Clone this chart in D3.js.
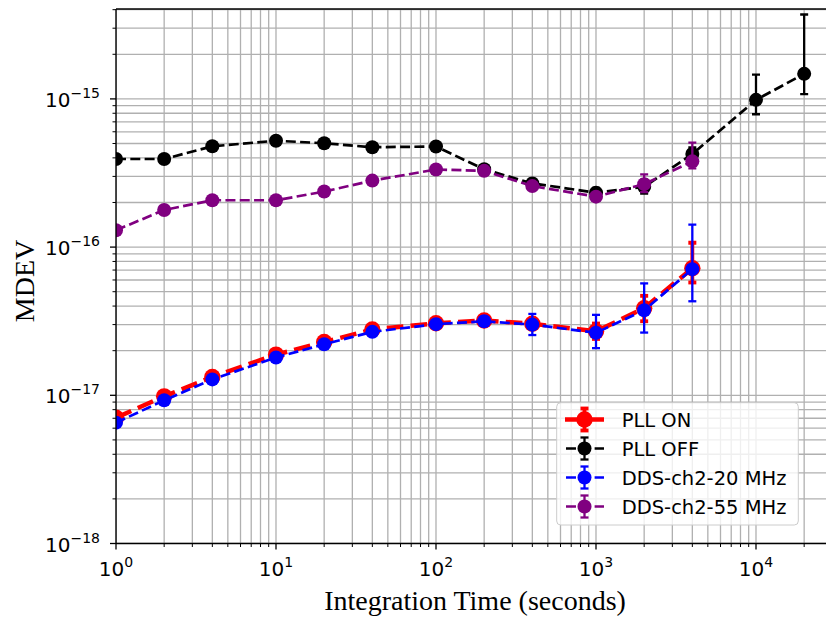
<!DOCTYPE html>
<html>
<head>
<meta charset="utf-8">
<script src="https://cdn.jsdelivr.net/npm/d3@7/dist/d3.min.js"></script>
<style>
  html, body { margin: 0; padding: 0; background: #fff; }
  svg { display: block; }
</style>
</head>
<body>
<div id="chart"></div>
<script>
// ---- data ----
const tau = [1, 2, 4, 10, 20, 40, 100, 200, 400, 1000, 2000, 4000];
const tauOff = [1, 2, 4, 10, 20, 40, 100, 200, 400, 1000, 2000, 4000, 10000, 20000];

const pllOn      = [7.06e-18, 9.84e-18, 1.33e-17, 1.88e-17, 2.29e-17, 2.78e-17, 3.06e-17, 3.20e-17, 3.04e-17, 2.70e-17, 3.87e-17, 7.2e-17];
const pllOnLo    = [6.9e-18, 9.6e-18, 1.30e-17, 1.85e-17, 2.25e-17, 2.72e-17, 2.98e-17, 3.05e-17, 2.85e-17, 2.40e-17, 3.16e-17, 5.77e-17];
const pllOnHi    = [7.2e-18, 1.00e-17, 1.36e-17, 1.91e-17, 2.33e-17, 2.84e-17, 3.14e-17, 3.36e-17, 3.25e-17, 3.05e-17, 4.69e-17, 1.07e-16];

const pllOff     = [3.93e-16, 3.93e-16, 4.79e-16, 5.22e-16, 5.02e-16, 4.72e-16, 4.77e-16, 3.35e-16, 2.69e-16, 2.33e-16, 2.55e-16, 4.25e-16, 9.85e-16, 1.476e-15];
const pllOffLo   = [3.88e-16, 3.87e-16, 4.70e-16, 5.10e-16, 4.88e-16, 4.55e-16, 4.55e-16, 3.15e-16, 2.50e-16, 2.15e-16, 2.30e-16, 3.80e-16, 7.88e-16, 1.076e-15];
const pllOffHi   = [3.98e-16, 3.99e-16, 4.88e-16, 5.34e-16, 5.16e-16, 4.89e-16, 4.99e-16, 3.55e-16, 2.88e-16, 2.51e-16, 2.85e-16, 4.70e-16, 1.46e-15, 3.71e-15];

const dds20      = [6.54e-18, 9.25e-18, 1.28e-17, 1.80e-17, 2.21e-17, 2.68e-17, 3.02e-17, 3.16e-17, 3.00e-17, 2.64e-17, 3.75e-17, 7.1e-17];
const dds20Lo    = [6.4e-18, 9.05e-18, 1.25e-17, 1.76e-17, 2.15e-17, 2.60e-17, 2.90e-17, 2.95e-17, 2.55e-17, 2.08e-17, 2.65e-17, 4.31e-17];
const dds20Hi    = [6.7e-18, 9.45e-18, 1.31e-17, 1.84e-17, 2.27e-17, 2.76e-17, 3.14e-17, 3.40e-17, 3.54e-17, 3.49e-17, 5.69e-17, 1.42e-16];

const dds55      = [1.30e-16, 1.78e-16, 2.07e-16, 2.07e-16, 2.37e-16, 2.81e-16, 3.34e-16, 3.27e-16, 2.58e-16, 2.19e-16, 2.66e-16, 3.79e-16];
const dds55Lo    = [1.28e-16, 1.75e-16, 2.03e-16, 2.03e-16, 2.32e-16, 2.74e-16, 3.25e-16, 3.15e-16, 2.45e-16, 2.05e-16, 2.35e-16, 3.40e-16];
const dds55Hi    = [1.32e-16, 1.81e-16, 2.11e-16, 2.11e-16, 2.42e-16, 2.88e-16, 3.43e-16, 3.39e-16, 2.71e-16, 2.33e-16, 3.10e-16, 5.07e-16];

const seriesNames  = ["PLL ON", "PLL OFF", "DDS-ch2-20 MHz", "DDS-ch2-55 MHz"];
const seriesColors = ["#ff0000", "#000000", "#0000ff", "#800080"];

const xTickExp = [0, 1, 2, 3, 4];
const yTickExp = [-18, -17, -16, -15];

const xLabel = "Integration Time (seconds)";
const yLabel = "MDEV";

// ---- layout ----
const W = 826, H = 617;
const L = 116, R = 834, T = 9, B = 543.5;
const pxPerDecX = 160, pxPerDecY = 148.2;

const svg = d3.select("#chart").append("svg")
  .attr("width", W).attr("height", H)
  .attr("viewBox", `0 0 ${W} ${H}`);

const x = d3.scaleLog()
  .domain([1, Math.pow(10, (R - L) / pxPerDecX)])
  .range([L, R]);
const y = d3.scaleLog()
  .domain([1e-18, Math.pow(10, -18 + (B - T) / pxPerDecY)])
  .range([B, T]);

svg.append("defs").append("clipPath").attr("id", "clip")
  .append("rect").attr("x", L).attr("y", T).attr("width", R - L).attr("height", B - T);

// grid (major + minor)
const xAll = [], yAll = [];
for (let e = 0; e <= 5; e++) for (let m = 1; m <= 9; m++) {
  const v = m * Math.pow(10, e);
  if (v >= x.domain()[0] && v <= x.domain()[1]) xAll.push(v);
}
for (let e = -18; e <= -14; e++) for (let m = 1; m <= 9; m++) {
  const v = m * Math.pow(10, e);
  if (v >= y.domain()[0] * 0.999 && v <= y.domain()[1]) yAll.push(v);
}
const grid = svg.append("g").attr("clip-path", "url(#clip)");
grid.selectAll("line.gx").data(xAll).join("line")
  .attr("x1", d => x(d)).attr("x2", d => x(d)).attr("y1", T).attr("y2", B)
  .attr("stroke", "#b0b0b0").attr("stroke-width", 1.3);
grid.selectAll("line.gy").data(yAll).join("line")
  .attr("y1", d => y(d)).attr("y2", d => y(d)).attr("x1", L).attr("x2", R)
  .attr("stroke", "#b0b0b0").attr("stroke-width", 1.3);

// series
const series = [
  { xs: tau,    v: pllOn,  lo: pllOnLo,  hi: pllOnHi,  lw: 4.5, r: 8.2, cap: 4 },
  { xs: tauOff, v: pllOff, lo: pllOffLo, hi: pllOffHi, lw: 2.7, r: 7,   cap: 4 },
  { xs: tau,    v: dds20,  lo: dds20Lo,  hi: dds20Hi,  lw: 2.7, r: 7,   cap: 4 },
  { xs: tau,    v: dds55,  lo: dds55Lo,  hi: dds55Hi,  lw: 2.7, r: 7,   cap: 4 },
];

const plot = svg.append("g").attr("clip-path", "url(#clip)");
series.forEach((s, i) => {
  const col = seriesColors[i];
  const pts = s.xs.map((t, k) => ({ t, v: s.v[k], lo: s.lo[k], hi: s.hi[k] }));
  const g = plot.append("g");
  g.append("path")
    .attr("d", d3.line().x(d => x(d.t)).y(d => y(d.v))(pts))
    .attr("fill", "none").attr("stroke", col).attr("stroke-width", s.lw)
    .attr("stroke-dasharray", `${3.7 * s.lw},${1.6 * s.lw}`);
  g.selectAll("circle").data(pts).join("circle")
    .attr("cx", d => x(d.t)).attr("cy", d => y(d.v)).attr("r", s.r).attr("fill", col);
  const ebw = s.lw * 0.85;
  g.selectAll("line.eb").data(pts).join("line")
    .attr("x1", d => x(d.t)).attr("x2", d => x(d.t))
    .attr("y1", d => y(d.lo)).attr("y2", d => y(d.hi))
    .attr("stroke", col).attr("stroke-width", ebw);
  g.selectAll("line.ct").data(pts).join("line")
    .attr("x1", d => x(d.t) - s.cap).attr("x2", d => x(d.t) + s.cap)
    .attr("y1", d => y(d.hi)).attr("y2", d => y(d.hi))
    .attr("stroke", col).attr("stroke-width", ebw);
  g.selectAll("line.cb").data(pts).join("line")
    .attr("x1", d => x(d.t) - s.cap).attr("x2", d => x(d.t) + s.cap)
    .attr("y1", d => y(d.lo)).attr("y2", d => y(d.lo))
    .attr("stroke", col).attr("stroke-width", ebw);
});

// ticks
const axes = svg.append("g");
const xMinor = xAll.filter(v => !xTickExp.some(e => Math.abs(v - Math.pow(10, e)) < 1e-9 * v));
const yMinor = yAll.filter(v => !yTickExp.some(e => Math.abs(v - Math.pow(10, e)) / v < 1e-6));
axes.selectAll("line.xM").data(xTickExp).join("line")
  .attr("x1", e => x(Math.pow(10, e))).attr("x2", e => x(Math.pow(10, e)))
  .attr("y1", B).attr("y2", B + 6).attr("stroke", "#000").attr("stroke-width", 1.3);
axes.selectAll("line.xm").data(xMinor).join("line")
  .attr("x1", d => x(d)).attr("x2", d => x(d))
  .attr("y1", B).attr("y2", B + 3.5).attr("stroke", "#000").attr("stroke-width", 1);
axes.selectAll("line.yM").data(yTickExp).join("line")
  .attr("y1", e => y(Math.pow(10, e))).attr("y2", e => y(Math.pow(10, e)))
  .attr("x1", L - 6).attr("x2", L).attr("stroke", "#000").attr("stroke-width", 1.3);
axes.selectAll("line.ym").data(yMinor).join("line")
  .attr("y1", d => y(d)).attr("y2", d => y(d))
  .attr("x1", L - 3.5).attr("x2", L).attr("stroke", "#000").attr("stroke-width", 1);

// spines
axes.append("line").attr("x1", L).attr("x2", L).attr("y1", T).attr("y2", B)
  .attr("stroke", "#000").attr("stroke-width", 1.4);
axes.append("line").attr("x1", L).attr("x2", R).attr("y1", B).attr("y2", B)
  .attr("stroke", "#000").attr("stroke-width", 1.4);
axes.append("line").attr("x1", L).attr("x2", R).attr("y1", T).attr("y2", T)
  .attr("stroke", "#000").attr("stroke-width", 1.4);

const tickFont = "DejaVu Sans, sans-serif";
function powLabel(sel, e) {
  sel.append("tspan").text("10");
  sel.append("tspan").attr("font-size", 14).attr("dy", -9)
    .text(e < 0 ? "\u2212" + Math.abs(e) : String(e));
}
axes.selectAll("text.xt").data(xTickExp).join("text")
  .attr("x", e => x(Math.pow(10, e))).attr("y", B + 32.5)
  .attr("text-anchor", "middle").attr("font-family", tickFont).attr("font-size", 20)
  .attr("fill", "#000")
  .each(function (e) { powLabel(d3.select(this), e); });
axes.selectAll("text.yt").data(yTickExp).join("text")
  .attr("x", 100).attr("y", e => y(Math.pow(10, e)) + 8)
  .attr("text-anchor", "end").attr("font-family", tickFont).attr("font-size", 20)
  .attr("fill", "#000")
  .each(function (e) { powLabel(d3.select(this), e); });

// axis labels
svg.append("text").attr("x", (L + R) / 2).attr("y", 610)
  .attr("text-anchor", "middle").attr("font-family", "Liberation Serif, Times New Roman, serif")
  .attr("font-size", 28).attr("fill", "#000").text(xLabel);
svg.append("text").attr("transform", `translate(33.5,281) rotate(-90)`)
  .attr("text-anchor", "middle").attr("font-family", "Liberation Serif, Times New Roman, serif")
  .attr("font-size", 28).attr("fill", "#000").text(yLabel);

// legend
const lg = svg.append("g");
lg.append("rect").attr("x", 556.7).attr("y", 402.7).attr("width", 241.6).attr("height", 122.3)
  .attr("rx", 4).attr("fill", "#fff").attr("fill-opacity", 0.8)
  .attr("stroke", "#cccccc").attr("stroke-width", 1);
seriesNames.forEach((name, i) => {
  const s = series[i], col = seriesColors[i];
  const cy = 419.5 + i * 29;
  lg.append("line").attr("x1", 565).attr("x2", 604).attr("y1", cy).attr("y2", cy)
    .attr("stroke", col).attr("stroke-width", s.lw)
    .attr("stroke-dasharray", `${3.7 * s.lw},${1.6 * s.lw}`)
    .attr("stroke-dashoffset", i === 0 ? 0 : -1);
  lg.append("circle").attr("cx", 584.5).attr("cy", cy).attr("r", s.r).attr("fill", col);
  const ebw = s.lw * 0.85;
  lg.append("line").attr("x1", 584.5).attr("x2", 584.5).attr("y1", cy - 11).attr("y2", cy + 11)
    .attr("stroke", col).attr("stroke-width", ebw);
  [cy - 11, cy + 11].forEach(yy => lg.append("line")
    .attr("x1", 584.5 - s.cap).attr("x2", 584.5 + s.cap).attr("y1", yy).attr("y2", yy)
    .attr("stroke", col).attr("stroke-width", ebw));
  lg.append("text").attr("x", 621.7).attr("y", cy + 7)
    .attr("font-family", tickFont).attr("font-size", 19.5).attr("fill", "#000").text(name);
});
</script>
</body>
</html>
